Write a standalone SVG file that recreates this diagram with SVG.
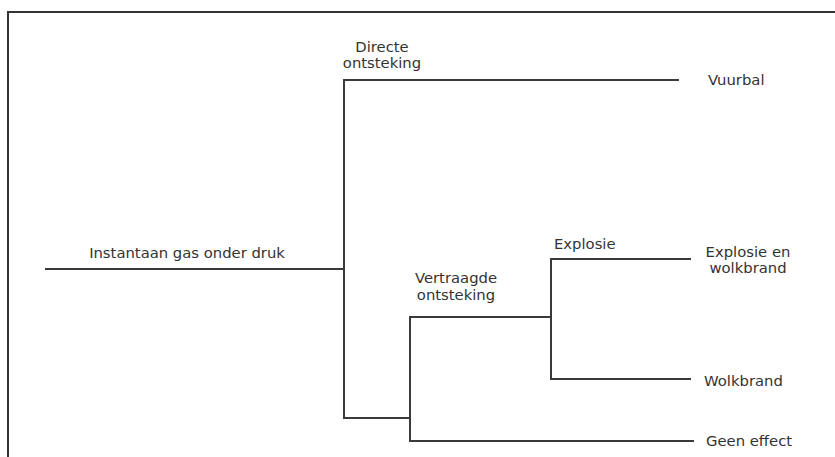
<svg xmlns="http://www.w3.org/2000/svg" width="835" height="457" viewBox="0 0 835 457">
<style>
.ln{stroke:#3a3a3a;stroke-width:2;fill:none;stroke-linecap:square}
.t{font-family:"DejaVu Sans","Liberation Sans",sans-serif;font-size:14.8px;fill:#333}
.m{text-anchor:middle}
</style>
<rect width="835" height="457" fill="#fff"/>
<path d="M8 458 V12 H836" stroke="#333" stroke-width="2" fill="none"/>
<g id="connectors">
<path class="ln" d="M46 269 H344"/>
<path class="ln" d="M344 80 V418 H410"/>
<path class="ln" d="M344 80 H678"/>
<path class="ln" d="M410 317 V441"/>
<path class="ln" d="M410 317 H551"/>
<path class="ln" d="M410 441 H693"/>
<path class="ln" d="M551 259 V379"/>
<path class="ln" d="M551 259 H690"/>
<path class="ln" d="M551 379 H690"/>
</g>
<g id="start"><text class="t m" x="187" y="258">Instantaan gas onder druk</text></g>
<g id="directe"><text class="t m" x="382" y="52">Directe</text><text class="t m" x="382" y="68">ontsteking</text></g>
<g id="vertraagde"><text class="t m" x="456" y="283">Vertraagde</text><text class="t m" x="456" y="300">ontsteking</text></g>
<g id="explosie"><text class="t" x="554" y="249">Explosie</text></g>
<g id="vuurbal"><text class="t" x="708" y="85">Vuurbal</text></g>
<g id="explosie-wolkbrand"><text class="t m" x="748" y="257">Explosie en</text><text class="t m" x="748" y="273">wolkbrand</text></g>
<g id="wolkbrand"><text class="t" x="704" y="386">Wolkbrand</text></g>
<g id="geen-effect"><text class="t" x="706" y="446">Geen effect</text></g>
</svg>
